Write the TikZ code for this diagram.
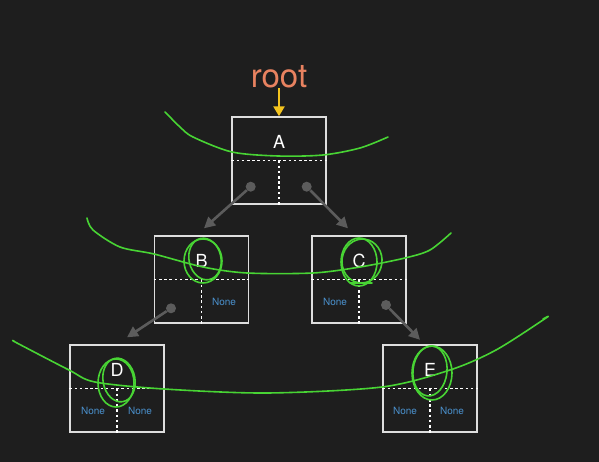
\documentclass[tikz,border=0pt]{standalone}
\usepackage{fontspec}
\setmainfont{TeX Gyre Heros}
\usetikzlibrary{arrows.meta}
\definecolor{bgdark}{RGB}{30,30,30}
\definecolor{boxline}{RGB}{222,222,222}
\definecolor{noneblue}{RGB}{74,144,204}
\definecolor{ptrgray}{RGB}{92,92,92}
\definecolor{rootred}{RGB}{232,130,96}
\definecolor{rootyellow}{RGB}{244,196,30}
\definecolor{inkgreen}{RGB}{72,212,52}

\begin{document}
\begin{tikzpicture}[x=1pt,y=-1pt,
	box/.style={ draw=boxline, line width=1.4pt, minimum width=94pt, minimum height=87pt, inner sep=0pt },
	half/.style={ white, line width=1.2pt, dash pattern=on 2.6pt off 2.6pt },
	key/.style={ white, inner sep=0pt, font=\fontsize{18}{18}\selectfont },
	none/.style={ text=noneblue, inner sep=0pt, font=\fontsize{10}{10}\selectfont },
	dot/.style={ circle, fill=ptrgray, inner sep=0pt, minimum size=10pt },
	ptr/.style={ ptrgray, line width=2.6pt, -{Triangle[length=11pt,width=11pt]} },
	ink/.style={ inkgreen, line width=1.6pt, line cap=round, line join=round }
]

\fill[bgdark] (0,0) rectangle (599,462);

% root pointer
\node at (279,77) (root) [text=rootred, inner sep=0pt, font=\fontsize{33}{33}\selectfont] {root};

% node A
\begin{scope}[shift={(232,117)}]
	\node at (47,43.5) (nA) [box] {};
	\draw[half] (nA.west) -- (nA.east);
	\draw[half] (nA.center) -- (nA.south);
	\node at (47,25) (kA) [key] {A};
	\node at (18.7,69.7) (dA1) [dot] {};
	\node at (74.7,69.7) (dA2) [dot] {};
\end{scope}

% node B
\begin{scope}[shift={(154.5,236)}]
	\node at (47,43.5) (nB) [box] {};
	\draw[half] (nB.west) -- (nB.east);
	\draw[half] (nB.center) -- (nB.south);
	\node at (47,25) (kB) [key] {B};
	\node at (16.5,72.3) (dB1) [dot] {};
	\node at (69.5,66) (xB2) [none] {None};
\end{scope}

% node C
\begin{scope}[shift={(312,236)}]
	\node at (47,43.5) (nC) [box] {};
	\draw[half] (nC.west) -- (nC.east);
	\draw[half] (nC.center) -- (nC.south);
	\node at (47,25) (kC) [key] {C};
	\node at (23,66) (xC1) [none] {None};
	\node at (74,69) (dC2) [dot] {};
\end{scope}

% node D
\begin{scope}[shift={(70,345)}]
	\node at (47,43.5) (nD) [box] {};
	\draw[half] (nD.west) -- (nD.east);
	\draw[half] (nD.center) -- (nD.south);
	\node at (47,25) (kD) [key] {D};
	\node at (23,66) (xD1) [none] {None};
	\node at (70,66) (xD2) [none] {None};
\end{scope}

% node E
\begin{scope}[shift={(383,345)}]
	\node at (47,43.5) (nE) [box] {};
	\draw[half] (nE.west) -- (nE.east);
	\draw[half] (nE.center) -- (nE.south);
	\node at (47,25) (kE) [key] {E};
	\node at (22,66) (xE1) [none] {None};
	\node at (69,66) (xE2) [none] {None};
\end{scope}

% pointers
\draw[rootyellow, line width=2.4pt, -{Triangle[length=10pt,width=11pt]}] (root) -- (nA.north);
\draw[ptr] (dA1) -- ([xshift=2.5pt,yshift=7pt]nB.north);
\draw[ptr] (dA2) -- ([xshift=-11pt,yshift=7pt]nC.north);
\draw[ptr] (dB1) -- ([xshift=10pt,yshift=7pt]nD.north);
\draw[ptr] (dC2) -- ([xshift=-10pt,yshift=4.5pt]nE.north);

% green ink: level lines
\draw[ink] plot[smooth] coordinates {(165,112) (167,114) (180,127) (193,137) (232,152) (278,156) (323,155) (360,148) (388,137)};
\draw[ink] plot[smooth] coordinates {(87,218) (93,230) (120,247) (154,254) (203,267) (247,273) (313,273) (360,267) (405,258) (430,250) (451,233)};
\draw[ink] plot[smooth] coordinates {(14,341) (17,343) (69,370) (95,382) (164,389) (267,393) (382,387) (450,370) (496,350) (546,318) (543,319)};

% green ink: circled keys
\draw[ink] (203,261) ellipse [x radius=19pt, y radius=22pt];
\draw[ink, rotate around={12:(205,259)}] (205,259) ellipse [x radius=16pt, y radius=21pt];
\draw[ink] (359,262) ellipse [x radius=18pt, y radius=24pt];
\draw[ink, rotate around={-8:(362,261)}] (362,261) ellipse [x radius=20pt, y radius=22pt];
\draw[ink] (350,283) -- (372,283);
\draw[ink] (116,383) ellipse [x radius=18pt, y radius=24pt];
\draw[ink, rotate around={10:(119,380)}] (119,380) ellipse [x radius=16pt, y radius=22pt];
\draw[ink] (432,373) ellipse [x radius=20pt, y radius=27pt];
\draw[ink, rotate around={-6:(430,371)}] (430,371) ellipse [x radius=17pt, y radius=25pt];

\end{tikzpicture}
\end{document}
